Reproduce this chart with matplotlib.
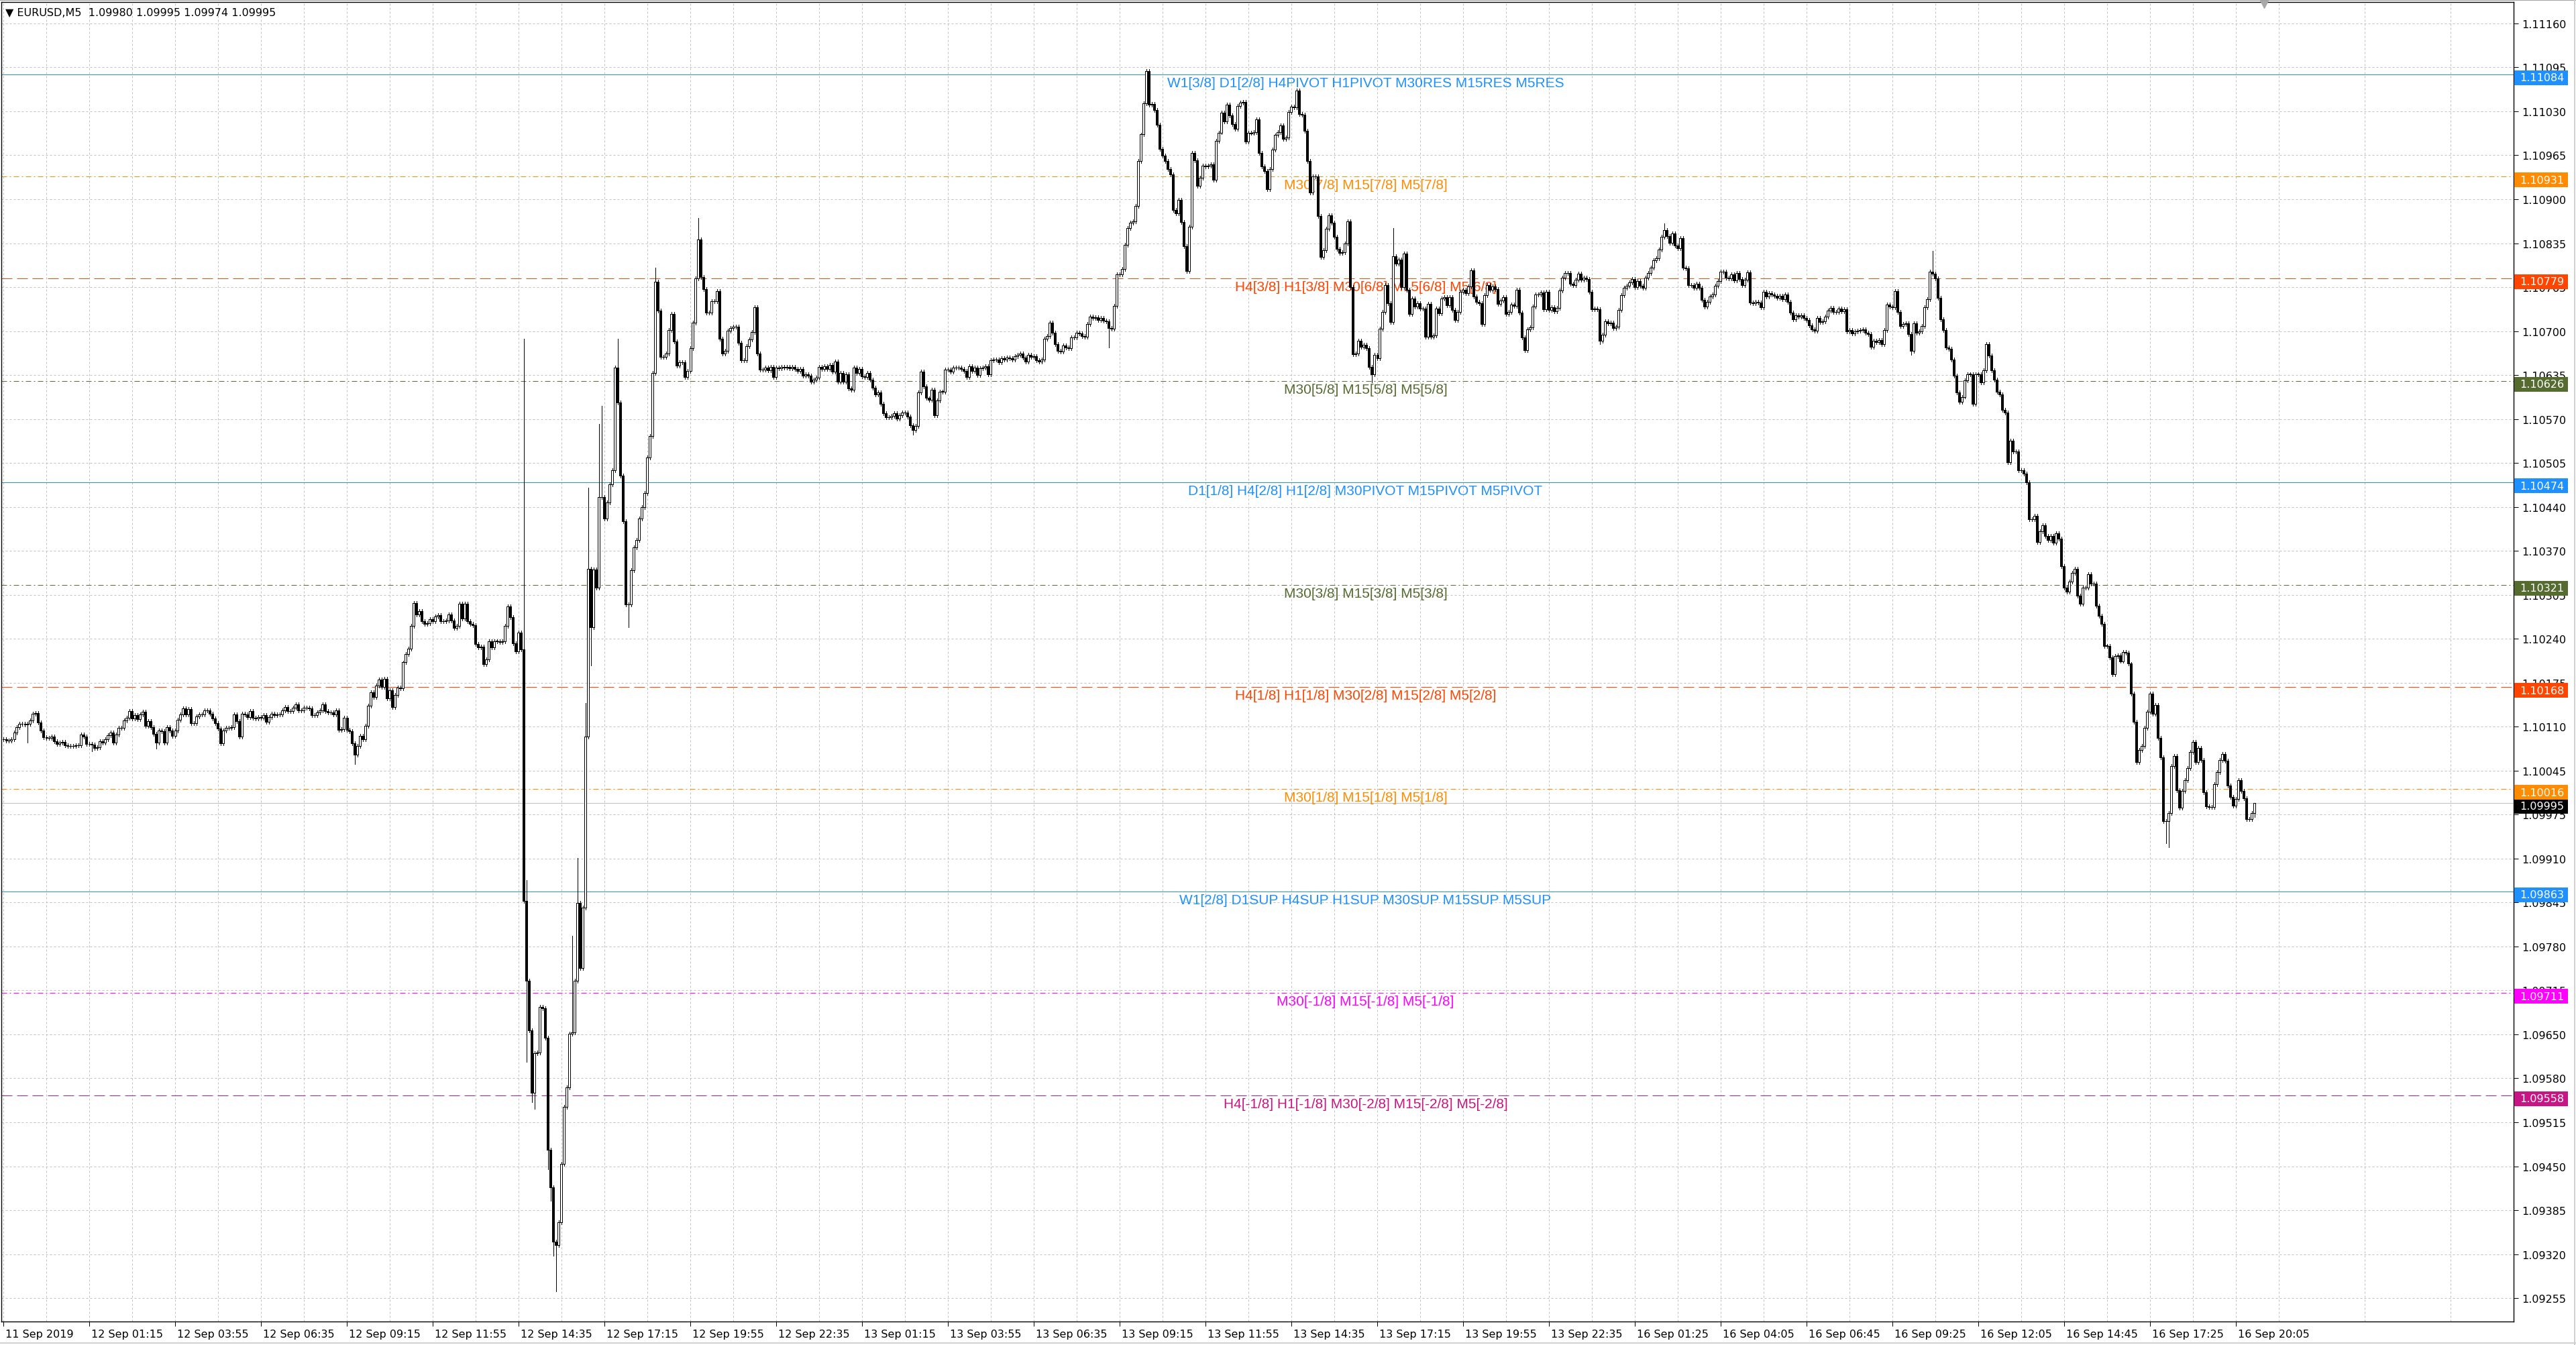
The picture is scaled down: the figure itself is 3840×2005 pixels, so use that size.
import numpy as np
import matplotlib
matplotlib.use("Agg")
import matplotlib.pyplot as plt
import matplotlib.transforms as mtransforms
from matplotlib.patches import Rectangle
from matplotlib.lines import Line2D

# M5 closes, in points (0.00001) above 1.09000
sep11_close = [1090, 1088, 1088, 1090, 1100, 1108, 1113, 1113, 1112, 1113,
               1118, 1128, 1129, 1115, 1103, 1093, 1092]

sep12_close = [1092, 1094, 1087,
               1083, 1085, 1086, 1081, 1080, 1080, 1080, 1081, 1081, 1097,
               1094, 1083, 1083, 1082, 1077, 1078, 1087, 1085, 1090, 1096,
               1100, 1085, 1097, 1107, 1107, 1118, 1122, 1132, 1121, 1126,
               1120, 1127, 1131, 1110, 1117, 1108, 1098, 1085, 1103, 1102,
               1085, 1108, 1103, 1095, 1103, 1119, 1127, 1136, 1127, 1135,
               1114, 1114, 1124, 1127, 1127, 1133, 1133, 1128, 1121, 1114,
               1106, 1084, 1103, 1107, 1107, 1108, 1127, 1117, 1094, 1128,
               1127, 1123, 1132, 1122, 1121, 1123, 1122, 1126, 1116, 1123,
               1128, 1126, 1127, 1127, 1133, 1138, 1132, 1132, 1137, 1142,
               1133, 1133, 1137, 1137, 1136, 1126, 1126, 1130, 1133, 1142,
               1132, 1130, 1130, 1127, 1133, 1104, 1105, 1122, 1104, 1102,
               1084, 1067, 1080, 1095, 1090, 1110, 1140, 1160, 1153, 1170,
               1179, 1168, 1180, 1151, 1163, 1138, 1156, 1167, 1166, 1205,
               1218, 1226, 1260, 1294, 1277, 1282, 1267, 1263, 1264, 1270,
               1267, 1274, 1276, 1267, 1267, 1268, 1277, 1268, 1257, 1260,
               1293, 1271, 1293, 1267, 1263, 1261, 1233, 1228, 1229, 1202,
               1210, 1237, 1228, 1237, 1237, 1236, 1237, 1260, 1289, 1273,
               1234, 1222, 1250, 1225, 849, 729, 655, 562, 621, 622,
               690, 688, 644, 477, 421, 339, 334, 368, 456, 541,
               570, 650, 652, 729, 846, 748, 839, 1094, 1345, 1258,
               1344, 1317, 1452, 1452, 1420, 1444, 1471, 1492, 1646, 1593,
               1484, 1416, 1292, 1292, 1343, 1377, 1388, 1420, 1437, 1458,
               1511, 1543, 1638, 1774, 1731, 1662, 1662, 1667, 1702, 1726,
               1685, 1649, 1654, 1654, 1632, 1641, 1675, 1713, 1779, 1837,
               1781, 1763, 1728, 1728, 1745, 1745, 1760, 1689, 1667, 1671,
               1701, 1705, 1707, 1707, 1683, 1657, 1657, 1678, 1688, 1699,
               1736, 1667, 1643, 1643, 1646, 1642, 1647, 1632, 1646, 1645,
               1647, 1646, 1647, 1645, 1647, 1644, 1641, 1644, 1634, 1636,
               1634, 1625, 1628, 1631, 1647]

sep13_close = [1644, 1648, 1644, 1650, 1640,
               1655, 1625, 1638, 1625, 1636, 1615, 1613, 1646, 1638, 1644,
               1633, 1632, 1638, 1628, 1616, 1606, 1609, 1591, 1577, 1571,
               1571, 1573, 1577, 1569, 1574, 1578, 1578, 1572, 1559, 1552,
               1558, 1609, 1640, 1618, 1600, 1597, 1613, 1574, 1596, 1610,
               1610, 1643, 1643, 1640, 1646, 1646, 1646, 1644, 1641, 1632,
               1648, 1641, 1646, 1635, 1645, 1646, 1648, 1636, 1657, 1658,
               1658, 1654, 1660, 1658, 1661, 1660, 1658, 1663, 1665, 1667,
               1661, 1655, 1665, 1662, 1663, 1657, 1655, 1658, 1689, 1693,
               1713, 1698, 1681, 1671, 1670, 1679, 1676, 1675, 1691, 1691,
               1698, 1697, 1693, 1692, 1711, 1722, 1720, 1721, 1717, 1720,
               1716, 1715, 1705, 1704, 1738, 1785, 1785, 1793, 1829, 1854,
               1862, 1864, 1887, 1954, 1994, 2041, 2089, 2039, 2040, 2031,
               2009, 1972, 1962, 1954, 1942, 1934, 1881, 1876, 1896, 1863,
               1827, 1790, 1856, 1966, 1955, 1917, 1929, 1947, 1946, 1947,
               1949, 1926, 1984, 1997, 2027, 2014, 2039, 2023, 2010, 2003,
               2037, 2042, 2043, 1983, 1997, 1996, 1998, 2017, 1966, 1946,
               1939, 1912, 1942, 1971, 1993, 1998, 2008, 1987, 1989, 2028,
               2036, 2035, 2060, 2025, 2024, 2000, 1954, 1907, 1931, 1931,
               1872, 1811, 1821, 1853, 1873, 1862, 1841, 1823, 1817, 1818,
               1831, 1864, 1766, 1666, 1667, 1686, 1677, 1680, 1675, 1647,
               1636, 1665, 1660, 1704, 1729, 1769, 1742, 1714, 1812, 1801,
               1807, 1766, 1816, 1762, 1726, 1749, 1737, 1742, 1734, 1734,
               1692, 1741, 1692, 1694, 1734, 1727, 1749, 1751, 1739, 1751,
               1732, 1717, 1729, 1759, 1762, 1757, 1767, 1791, 1752, 1744,
               1742, 1711, 1754, 1769, 1762, 1767, 1763, 1741, 1746, 1751,
               1726, 1729, 1740, 1738, 1762, 1728, 1691, 1672, 1703, 1706,
               1737, 1755, 1755, 1758, 1733, 1759, 1732, 1736, 1730, 1735,
               1761, 1780, 1787, 1787, 1771, 1769, 1777, 1786, 1777, 1780,
               1778, 1759, 1733]

sep16_close = [1734, 1733, 1686, 1695, 1715, 1712, 1713,
               1705, 1707, 1732, 1754, 1765, 1768, 1773, 1778, 1766, 1775,
               1768, 1765, 1780, 1787, 1795, 1806, 1809, 1822, 1841, 1851,
               1842, 1832, 1846, 1828, 1824, 1839, 1795, 1794, 1769, 1769,
               1765, 1771, 1765, 1747, 1737, 1744, 1752, 1755, 1768, 1775,
               1789, 1789, 1780, 1779, 1785, 1776, 1787, 1778, 1769, 1777,
               1788, 1743, 1742, 1744, 1743, 1736, 1759, 1752, 1757, 1755,
               1753, 1750, 1753, 1748, 1755, 1744, 1728, 1718, 1724, 1722,
               1724, 1720, 1717, 1709, 1703, 1701, 1720, 1714, 1715, 1722,
               1731, 1735, 1729, 1729, 1734, 1730, 1733, 1700, 1702, 1697,
               1700, 1701, 1702, 1703, 1698, 1696, 1677, 1686, 1684, 1687,
               1681, 1702, 1740, 1737, 1736, 1760, 1729, 1708, 1711, 1712,
               1696, 1671, 1712, 1698, 1700, 1708, 1736, 1748, 1789, 1786,
               1779, 1750, 1718, 1702, 1676, 1674, 1658, 1634, 1609, 1594,
               1602, 1627, 1636, 1636, 1591, 1636, 1636, 1624, 1642, 1681,
               1664, 1642, 1628, 1610, 1606, 1582, 1578, 1504, 1536, 1520,
               1520, 1492, 1492, 1487, 1474, 1419, 1419, 1424, 1385, 1401,
               1410, 1394, 1388, 1394, 1384, 1398, 1390, 1349, 1317, 1311,
               1326, 1339, 1345, 1305, 1293, 1317, 1317, 1337, 1323, 1323,
               1290, 1275, 1263, 1230, 1230, 1213, 1187, 1215, 1216, 1207,
               1221, 1220, 1203, 1158, 1116, 1056, 1074, 1080, 1107, 1131,
               1158, 1128, 1141, 1092, 1063, 968, 968, 980, 1050, 1065,
               1014, 988, 1013, 1029, 1047, 1071, 1086, 1056, 1077, 1059,
               1011, 990, 989, 989, 1023, 1041, 1059, 1068, 1058, 1021,
               1004, 991, 1001, 1029, 1013, 1002, 971, 971, 980, 995]

# long wicks (bar number -> extreme, same point units)
high_marks = {194: 1689, 195: 880, 212: 796, 214: 913, 217: 1144, 218: 1466,
              222: 1561, 223: 1588, 229: 1689, 243: 1795, 259: 1869,
              426: 2092, 518: 1854, 619: 1861, 719: 1820, 839: 995}
low_marks = {9: 1085, 33: 1072, 57: 1076, 131: 1053, 195: 608, 197: 548,
             198: 538, 203: 448, 204: 400, 205: 318, 206: 265, 219: 1200,
             233: 1258, 339: 1545, 412: 1676, 510: 1624, 595: 1681,
             711: 1665, 806: 935, 807: 929, 839: 974}
last_open = 1.09980
bid = 1.09995

levels = [1.11084, 1.10931, 1.10779, 1.10626, 1.10474, 1.10321,
          1.10168, 1.10016, 1.09863, 1.09711, 1.09558]
level_text = ["W1[3/8] D1[2/8] H4PIVOT H1PIVOT M30RES M15RES M5RES",
              "M30[7/8] M15[7/8] M5[7/8]",
              "H4[3/8] H1[3/8] M30[6/8] M15[6/8] M5[6/8]",
              "M30[5/8] M15[5/8] M5[5/8]",
              "D1[1/8] H4[2/8] H1[2/8] M30PIVOT M15PIVOT M5PIVOT",
              "M30[3/8] M15[3/8] M5[3/8]",
              "H4[1/8] H1[1/8] M30[2/8] M15[2/8] M5[2/8]",
              "M30[1/8] M15[1/8] M5[1/8]",
              "W1[2/8] D1SUP H4SUP H1SUP M30SUP M15SUP M5SUP",
              "M30[-1/8] M15[-1/8] M5[-1/8]",
              "H4[-1/8] H1[-1/8] M30[-2/8] M15[-2/8] M5[-2/8]"]
level_color = ["#1E90FF", "#FF8C00", "#FF4500", "#556B2F", "#1E90FF", "#556B2F",
               "#FF4500", "#FF8C00", "#1E90FF", "#FF00FF", "#C71585"]
SOLID, DASH, DASHDOT = "-", (0, (16, 7)), (0, (8, 4, 2, 4))
level_style = [SOLID, DASHDOT, DASH, DASHDOT, SOLID, DASHDOT,
               DASH, DASHDOT, SOLID, DASHDOT, DASH]

ytick_text = ["1.11160", "1.11095", "1.11030", "1.10965", "1.10900", "1.10835",
              "1.10765", "1.10700", "1.10635", "1.10570", "1.10505", "1.10440",
              "1.10370", "1.10305", "1.10240", "1.10175", "1.10110", "1.10045",
              "1.09975", "1.09910", "1.09845", "1.09780", "1.09715", "1.09650",
              "1.09580", "1.09515", "1.09450", "1.09385", "1.09320", "1.09255"]
xtick_text = ["11 Sep 2019", "12 Sep 01:15", "12 Sep 03:55", "12 Sep 06:35",
              "12 Sep 09:15", "12 Sep 11:55", "12 Sep 14:35", "12 Sep 17:15",
              "12 Sep 19:55", "12 Sep 22:35", "13 Sep 01:15", "13 Sep 03:55",
              "13 Sep 06:35", "13 Sep 09:15", "13 Sep 11:55", "13 Sep 14:35",
              "13 Sep 17:15", "13 Sep 19:55", "13 Sep 22:35", "16 Sep 01:25",
              "16 Sep 04:05", "16 Sep 06:45", "16 Sep 09:25", "16 Sep 12:05",
              "16 Sep 14:45", "16 Sep 17:25", "16 Sep 20:05"]
header = "\u25BC EURUSD,M5  1.09980 1.09995 1.09974 1.09995"

plt.rcParams["font.family"] = ["DejaVu Sans"]
W, H = 3840, 2006
YMIN, YMAX = 1.09220, 1.11192
PX = (YMAX - YMIN) / 1967.0       # price per screen pixel
LW = 0.72                          # one pixel in points

# ---- build OHLC
close = 1.09 + np.array(sep11_close + sep12_close + sep13_close + sep16_close) * 1e-5
n = len(close)
opn = np.r_[close[0], close[:-1]]
opn[-1] = last_open
hi = np.maximum(opn, close) + 3e-5
lo = np.minimum(opn, close) - 3e-5
for k, v in high_marks.items():
    hi[k] = 1.09 + v * 1e-5
for k, v in low_marks.items():
    lo[k] = 1.09 + v * 1e-5

fig = plt.figure(figsize=(W / 100, H / 100), dpi=100)
ax = fig.add_axes([2 / W, 35 / H, 3745 / W, 1967 / H])
ax.set_xlim(-0.75, 935.5)
ax.set_ylim(YMIN, YMAX)

# grid
ax.set_axisbelow(True)
ax.set_yticks(np.linspace(float(ytick_text[0]), float(ytick_text[-1]), len(ytick_text)))
ax.set_yticklabels(ytick_text)
ax.set_xticks(np.arange(len(xtick_text)) * 32)
ax.set_xticklabels(xtick_text)
ax.set_xticks(np.arange(16, 936, 32), minor=True)
ax.grid(True, which="both", color="#C0C0C0", ls=(0, (3, 3)), lw=LW)
ax.yaxis.grid(True, which="major")

ax.yaxis.tick_right()
ax.tick_params(axis="y", length=5, width=LW, pad=4, labelsize=11.5, direction="out")
ax.tick_params(axis="x", which="major", length=5, width=LW, pad=3, labelsize=11.5)
ax.tick_params(axis="x", which="minor", length=0)
off = mtransforms.ScaledTranslation(3 / 100, 0, fig.dpi_scale_trans)
for lab in ax.get_xticklabels():
    lab.set_ha("left")
    lab.set_transform(lab.get_transform() + off)
for sp in ax.spines.values():
    sp.set_linewidth(1.0)
    sp.set_color("black")

# levels
ytr = ax.get_yaxis_transform()
txt_tr = mtransforms.offset_copy(ytr, fig=fig, y=-3, units="dots")
for lv, txt, col, ls in zip(levels, level_text, level_color, level_style):
    ax.axhline(lv, color=col, lw=LW, ls=ls, zorder=2)
    ax.text(0.543, lv, txt, transform=txt_tr, ha="center", va="top", color=col,
            fontsize=15, family=["Liberation Sans", "DejaVu Sans"], zorder=2.5)
ax.axhline(bid, color="#C0C0C0", lw=LW, zorder=2)

# candles
x = np.arange(n)
up = close >= opn
ax.vlines(x, lo, hi, color="black", lw=LW, zorder=4, antialiased=False)
ax.bar(x, np.maximum(np.abs(close - opn), 1e-6), bottom=np.minimum(opn, close),
       width=0.75, color=np.where(up, "white", "black"), edgecolor="black",
       linewidth=LW, zorder=5, antialiased=False)


def price_tag(price, color):
    ax.add_patch(Rectangle((0.0003 + 1, price - 16 * PX), 80 / 3745, 22 * PX,
                           transform=ytr, facecolor=color, edgecolor="none",
                           clip_on=False, zorder=10))
    ax.text(1.0024, price - 5 * PX, f"{price:.5f}", transform=ytr, color="white",
            ha="left", va="center", fontsize=11.5, zorder=11, clip_on=False)


price_tag(bid, "black")
for lv, col in zip(levels, level_color):
    price_tag(lv, col)

# header and chart-shift marker
fig.text(8 / W, 1 - 19 / H, header, ha="left", va="center", fontsize=11.5,
         color="black", zorder=20)
ax.plot([(3375 - 2) / 3745], [1 - 3 / 1967], marker="v", ms=8, color="#A8A8A8",
        transform=ax.transAxes, clip_on=False, zorder=20)

# window edges
fig.add_artist(Line2D([0, 1], [1 - 1 / H, 1 - 1 / H], color="#A0A0A0", lw=1.4))
fig.add_artist(Line2D([3838 / W, 3838 / W], [0, 1], color="#D0D0D0", lw=1.4))
fig.add_artist(Line2D([0, 1], [3 / H, 3 / H], color="#D0D0D0", lw=1.4))

fig.savefig("out.png", dpi=100)
